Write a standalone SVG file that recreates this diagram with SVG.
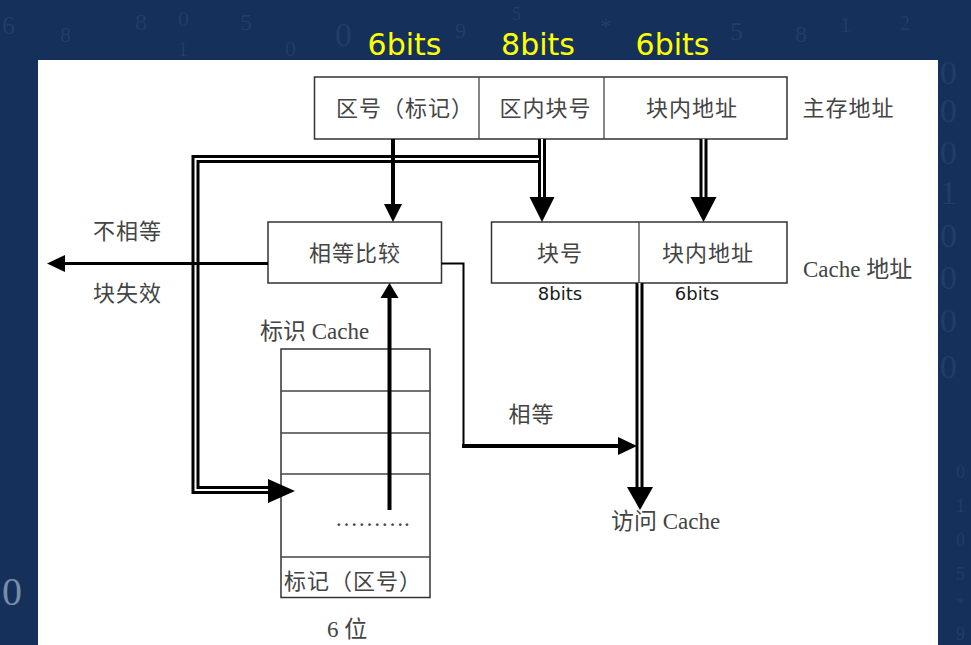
<svg xmlns="http://www.w3.org/2000/svg" width="971" height="645" viewBox="0 0 971 645">
  <defs>
    <style>
      .bgd { font-family: "Liberation Serif", serif; fill: #213e66; }
      .box { fill: #ffffff; stroke: #333333; stroke-width: 1.5; }
      .row { stroke: #444444; stroke-width: 1.3; fill: none; }
      .cn { font-family: "Noto Sans CJK SC", "Noto Sans", sans-serif; font-size: 22px; fill: #444444; letter-spacing: 1px; }
      .mix { font-family: "Liberation Serif", "Noto Sans CJK SC", serif; font-size: 23px; fill: #444444; }
      .bits { font-family: "DejaVu Sans", sans-serif; font-size: 18px; fill: #1a1a1a; }
      .ybits { font-family: "DejaVu Sans", sans-serif; font-size: 30px; fill: #ffff00; }
      .blk { fill: none; stroke: #000000; }
      .dbl { fill: none; stroke: #000000; stroke-width: 8; stroke-linejoin: miter; }
      .gap { fill: none; stroke: #ffffff; stroke-width: 2; stroke-linejoin: miter; }
      .head { fill: #000000; }
    </style>
  </defs>

  <!-- background -->
  <rect x="0" y="0" width="971" height="645" fill="#15305a"/>
  <g id="bg-digits" class="bgd">
    <text x="2" y="34" font-size="26">6</text>
    <text x="60" y="42" font-size="22">8</text>
    <text x="135" y="30" font-size="24">8</text>
    <text x="178" y="26" font-size="22">0</text>
    <text x="178" y="56" font-size="20">1</text>
    <text x="240" y="30" font-size="24">5</text>
    <text x="285" y="56" font-size="22">0</text>
    <text x="335" y="46" font-size="34">0</text>
    <text x="455" y="38" font-size="22">9</text>
    <text x="512" y="20" font-size="18">5</text>
    <text x="600" y="34" font-size="24">*</text>
    <text x="730" y="40" font-size="26">5</text>
    <text x="795" y="42" font-size="24">8</text>
    <text x="840" y="32" font-size="22">1</text>
    <text x="900" y="30" font-size="20">2</text>
    <text x="940" y="84" font-size="34">0</text>
    <text x="940" y="122" font-size="34">0</text>
    <text x="940" y="164" font-size="34">0</text>
    <text x="940" y="204" font-size="34">1</text>
    <text x="940" y="247" font-size="34">0</text>
    <text x="940" y="289" font-size="34">0</text>
    <text x="940" y="332" font-size="34">0</text>
    <text x="940" y="378" font-size="34">0</text>
    <text x="956" y="478" font-size="18">0</text>
    <text x="956" y="512" font-size="18">1</text>
    <text x="956" y="546" font-size="18">0</text>
    <text x="956" y="580" font-size="18">5</text>
    <text x="956" y="610" font-size="18">*</text>
    <text x="956" y="640" font-size="18">9</text>
    <text x="2" y="605" font-size="40" fill="#7a8ca5">0</text>
  </g>

  <!-- white panel -->
  <rect x="38" y="60" width="900" height="585" fill="#ffffff"/>

  <!-- top bit labels -->
  <g id="top-bits">
    <text class="ybits" x="404.5" y="55" text-anchor="middle">6bits</text>
    <text class="ybits" x="538" y="55" text-anchor="middle">8bits</text>
    <text class="ybits" x="672.5" y="55" text-anchor="middle">6bits</text>
  </g>

  <!-- main memory address -->
  <g id="main-address">
    <rect class="box" x="314.5" y="77" width="472.5" height="62"/>
    <line class="row" x1="479" y1="77" x2="479" y2="139"/>
    <line class="row" x1="604" y1="77" x2="604" y2="139"/>
    <text class="cn" x="405" y="116" text-anchor="middle">区号（标记）</text>
    <text class="cn" x="545.5" y="116" text-anchor="middle">区内块号</text>
    <text class="cn" x="692" y="116" text-anchor="middle">块内地址</text>
    <text class="cn" x="848.5" y="116" text-anchor="middle">主存地址</text>
  </g>

  <!-- comparator -->
  <g id="comparator">
    <rect class="box" x="268" y="222" width="173.5" height="61"/>
    <text class="cn" x="355" y="261" text-anchor="middle">相等比较</text>
  </g>

  <!-- cache address -->
  <g id="cache-address">
    <rect class="box" x="491.5" y="222" width="295.5" height="61"/>
    <line class="row" x1="639" y1="222" x2="639" y2="283"/>
    <text class="cn" x="560" y="261" text-anchor="middle">块号</text>
    <text class="cn" x="708" y="261" text-anchor="middle">块内地址</text>
    <text class="mix" x="803" y="277">Cache 地址</text>
    <text class="bits" x="560" y="300" text-anchor="middle">8bits</text>
    <text class="bits" x="697" y="300" text-anchor="middle">6bits</text>
  </g>

  <!-- tag cache -->
  <g id="tag-cache">
    <text class="mix" x="260" y="339">标识 Cache</text>
    <rect class="box" x="281" y="349" width="149" height="248.5"/>
    <line class="row" x1="281" y1="391" x2="430" y2="391"/>
    <line class="row" x1="281" y1="433" x2="430" y2="433"/>
    <line class="row" x1="281" y1="474" x2="430" y2="474"/>
    <line class="row" x1="281" y1="557" x2="430" y2="557"/>
    <text class="mix" x="335" y="526" font-size="24">……….</text>
    <text class="cn" x="353" y="589" text-anchor="middle">标记（区号）</text>
    <text class="mix" x="327" y="637">6 位</text>
  </g>

  <!-- free labels -->
  <g id="labels">
    <text class="cn" x="127.5" y="239" text-anchor="middle">不相等</text>
    <text class="cn" x="127.5" y="301" text-anchor="middle">块失效</text>
    <text class="cn" x="531.5" y="422" text-anchor="middle">相等</text>
    <text class="mix" x="611" y="529">访问 Cache</text>
  </g>

  <!-- connectors -->
  <g id="connectors">
    <path class="dbl" d="M546,159 H195.5 V490 H272"/>
    <path class="dbl" d="M542,139 V200"/>
    <path class="gap" d="M539,159 H195.5 V490 H272"/>
    <path class="gap" d="M542,139 V200"/>
    <polygon class="head" points="529.5,197 554.5,197 542,222"/>
    <polygon class="head" points="268,479 295,491 268,503"/>

    <path class="dbl" d="M703.5,139 V200"/>
    <path class="gap" d="M703.5,139 V200"/>
    <polygon class="head" points="690.5,197 716.5,197 703.5,222"/>

    <path class="dbl" d="M639.5,283 V490"/>
    <path class="gap" d="M639.5,283 V490"/>
    <polygon class="head" points="627,487 653,487 640,510"/>

    <path class="blk" stroke-width="4" d="M393,139 V206"/>
    <polygon class="head" points="384,204 402,204 393,222"/>

    <path class="blk" stroke-width="4" d="M389.5,510 V296"/>
    <polygon class="head" points="380.5,298 398.5,298 389.5,283"/>

    <path class="blk" stroke-width="3" d="M268,263.5 H63"/>
    <polygon class="head" points="65,255 65,272 47,263.5"/>

    <path class="blk" stroke-width="2" d="M441.5,263.5 H463.5 V446"/>
    <path class="blk" stroke-width="4" d="M462,446 H620"/>
    <polygon class="head" points="618,437 637,446 618,455"/>
  </g>
</svg>
